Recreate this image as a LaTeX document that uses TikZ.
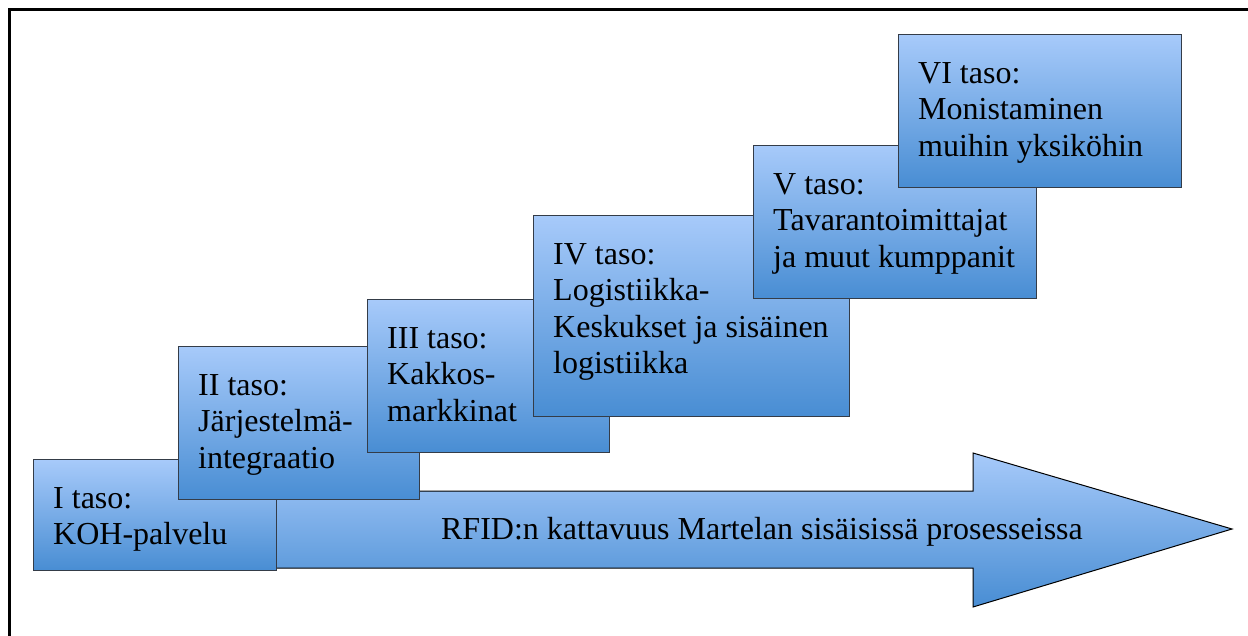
\documentclass[tikz,border=0pt]{standalone}
\usepackage{fontspec}
\setmainfont{Liberation Serif}
\newfontfamily\stepfont{Liberation Serif}
\usetikzlibrary{positioning}

\definecolor{stepTop}{RGB}{167,202,250}
\definecolor{stepBot}{RGB}{72,141,211}
\definecolor{stepLine}{RGB}{52,60,72}

\begin{document}
\begin{tikzpicture}[
  x=1pt,y=-1pt,
  stepbox/.style={draw=stepLine, line width=1.4pt, top color=stepTop, bottom color=stepBot, anchor=north west, inner sep=0pt},
  lbl/.style={align=left, inner sep=0pt, font=\stepfont\fontsize{32}{36.5}\selectfont},
  bigarrow/.style={draw=black, line width=1pt, top color=stepTop, bottom color=stepBot},
  frame/.style={line width=2.5pt, black}
]
\useasboundingbox (0,0) rectangle (1248,636);
\draw[frame] (9.5,636) -- (9.5,9.5) -- (1248,9.5);
% arrow behind the steps
\path[bigarrow] (150,491) -- (973,491) -- (973,453) -- (1232,529) -- (973,607) -- (973,568) -- (150,568) -- cycle;
\node[lbl, anchor=base] (rfid) at (762,539) {RFID:n kattavuus Martelan sisäisissä prosesseissa};
% steps
\node[stepbox, minimum width=243pt, minimum height=111pt] (t1) at (33,459) {};
\node[lbl, below right=28pt and 20pt of t1.north west] (l1) {I taso:\\KOH-palvelu};
\node[stepbox, minimum width=241pt, minimum height=153pt] (t2) at (178,346) {};
\node[lbl, below right=28pt and 20pt of t2.north west] (l2) {II taso:\\Järjestelmä-\\integraatio};
\node[stepbox, minimum width=242pt, minimum height=153pt] (t3) at (367,299) {};
\node[lbl, below right=28pt and 20pt of t3.north west] (l3) {III taso:\\Kakkos-\\markkinat};
\node[stepbox, minimum width=316pt, minimum height=201pt] (t4) at (533,215) {};
\node[lbl, below right=28pt and 20pt of t4.north west] (l4) {IV taso:\\Logistiikka-\\Keskukset ja sisäinen\\logistiikka};
\node[stepbox, minimum width=283pt, minimum height=153pt] (t5) at (753,145) {};
\node[lbl, below right=28pt and 20pt of t5.north west] (l5) {V taso:\\Tavarantoimittajat\\ja muut kumppanit};
\node[stepbox, minimum width=283pt, minimum height=153pt] (t6) at (898,34) {};
\node[lbl, below right=28pt and 20pt of t6.north west] (l6) {VI taso:\\Monistaminen\\muihin yksiköhin};
\end{tikzpicture}
\end{document}
